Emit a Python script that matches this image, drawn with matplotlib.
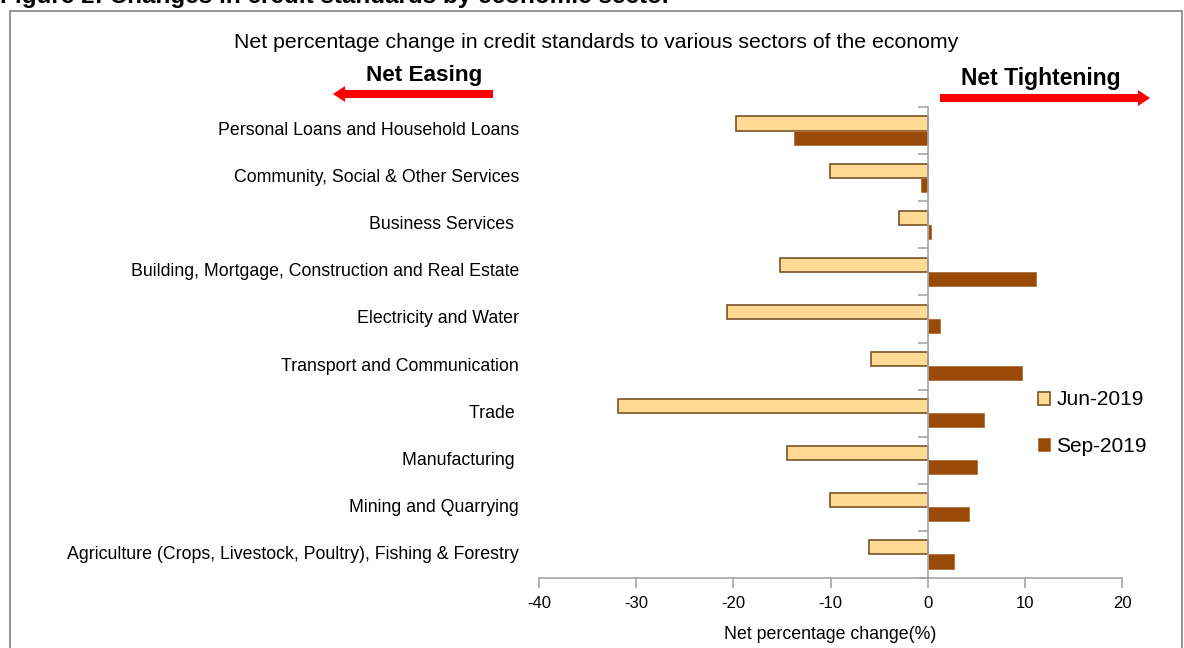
import matplotlib
matplotlib.use("Agg")
import matplotlib.pyplot as plt
from matplotlib.patches import Rectangle, FancyArrow
import numpy as np

plt.rcParams['font.family'] = ['Liberation Sans', 'DejaVu Sans']

categories = [
    "Personal Loans and Household Loans",
    "Community, Social & Other Services",
    "Business Services ",
    "Building, Mortgage, Construction and Real Estate",
    "Electricity and Water",
    "Transport and Communication",
    "Trade ",
    "Manufacturing ",
    "Mining and Quarrying",
    "Agriculture (Crops, Livestock, Poultry), Fishing & Forestry",
]
jun_2019 = [-19.7, -10.1, -3.0, -15.2, -20.7, -5.8, -31.9, -14.5, -10.1, -6.0]
sep_2019 = [-13.8, -0.7, 0.3, 11.1, 1.3, 9.7, 5.8, 5.1, 4.3, 2.7]
series_names = ["Jun-2019", "Sep-2019"]
xticks = [-40, -30, -20, -10, 0, 10, 20]

W, H = 1184, 648
fig = plt.figure(figsize=(W / 100, H / 100), dpi=100)

def fx(px):
    return px / W

def fy(py):
    return 1 - py / H

# outer frame
fig.patches.append(Rectangle((fx(10), fy(700)), fx(1172), (700 - 11) / H,
                             transform=fig.transFigure, fill=False,
                             edgecolor="#8c8c8c", linewidth=1.3))

fig.text(fx(0), fy(3), "Figure 2: Changes in credit standards by economic sector",
         fontsize=17.5, fontweight="bold", va="baseline", ha="left")

ax = fig.add_axes([fx(539), fy(578), fx(1122 - 539), (578 - 107) / H])

n = len(categories)
pos = np.arange(n)  # 0 at top
h = 0.3
jun_color = "#FFDA94"
jun_edge = "#7A5426"
sep_color = "#994A06"
sep_edge = "#B0703A"

ax.barh(pos - h / 2, jun_2019, height=h, color=jun_color, edgecolor=jun_edge,
        linewidth=1.2, label=series_names[0])
ax.barh(pos + h / 2, sep_2019, height=h, color=sep_color, edgecolor=sep_edge,
        linewidth=0.6, label=series_names[1])

ax.set_xlim(xticks[0], xticks[-1])
ax.set_ylim(n - 0.5, -0.5)

for s in ["top", "right"]:
    ax.spines[s].set_visible(False)
ax.spines["left"].set_position(("data", 0))
ax.spines["left"].set_color("#a6a6a6")
ax.spines["bottom"].set_color("#a6a6a6")
ax.spines["left"].set_linewidth(1.2)
ax.spines["bottom"].set_linewidth(1.2)

ax.set_yticks(np.arange(n + 1) - 0.5)
ax.set_yticklabels([])
ax.tick_params(axis="y", direction="out", length=7, color="#a6a6a6", width=1.2)
ax.set_xticks(xticks)
ax.set_xticklabels([str(t) for t in xticks], fontsize=12)
ax.tick_params(axis="x", direction="out", length=7, color="#a6a6a6", width=1.2, pad=6)
ax.set_xlabel("Net percentage change(%)", fontsize=12.8, labelpad=11)

ytrans = ax.get_yaxis_transform()
for i, c in enumerate(categories):
    ax.text(-0.034, pos[i], c, transform=ytrans, ha="right", va="center", fontsize=12.8)

fig.text(fx(596), fy(42), "Net percentage change in credit standards to various sectors of the economy",
         fontsize=15.3, ha="center", va="center")

fig.text(fx(424), fy(75), "Net Easing", fontsize=16.2, fontweight="bold", ha="center", va="center")
fig.text(fx(1041), fy(78), "Net Tightening", fontsize=16.5, fontweight="bold", ha="center", va="center")

fig.patches.append(FancyArrow(fx(493), fy(94), fx(333 - 493), 0, width=8 / H,
                              head_width=16 / H, head_length=fx(12),
                              length_includes_head=True, transform=fig.transFigure,
                              color="#FF0000", linewidth=0))
fig.patches.append(FancyArrow(fx(940), fy(98), fx(1150 - 940), 0, width=8 / H,
                              head_width=16 / H, head_length=fx(12),
                              length_includes_head=True, transform=fig.transFigure,
                              color="#FF0000", linewidth=0))

leg = fig.legend(loc="center left", bbox_to_anchor=(fx(1019), fy(423)), frameon=False,
                 fontsize=15, handlelength=0.6, handleheight=0.6, handletextpad=0.3,
                 labelspacing=1.3)

fig.savefig("out.png", dpi=100)
